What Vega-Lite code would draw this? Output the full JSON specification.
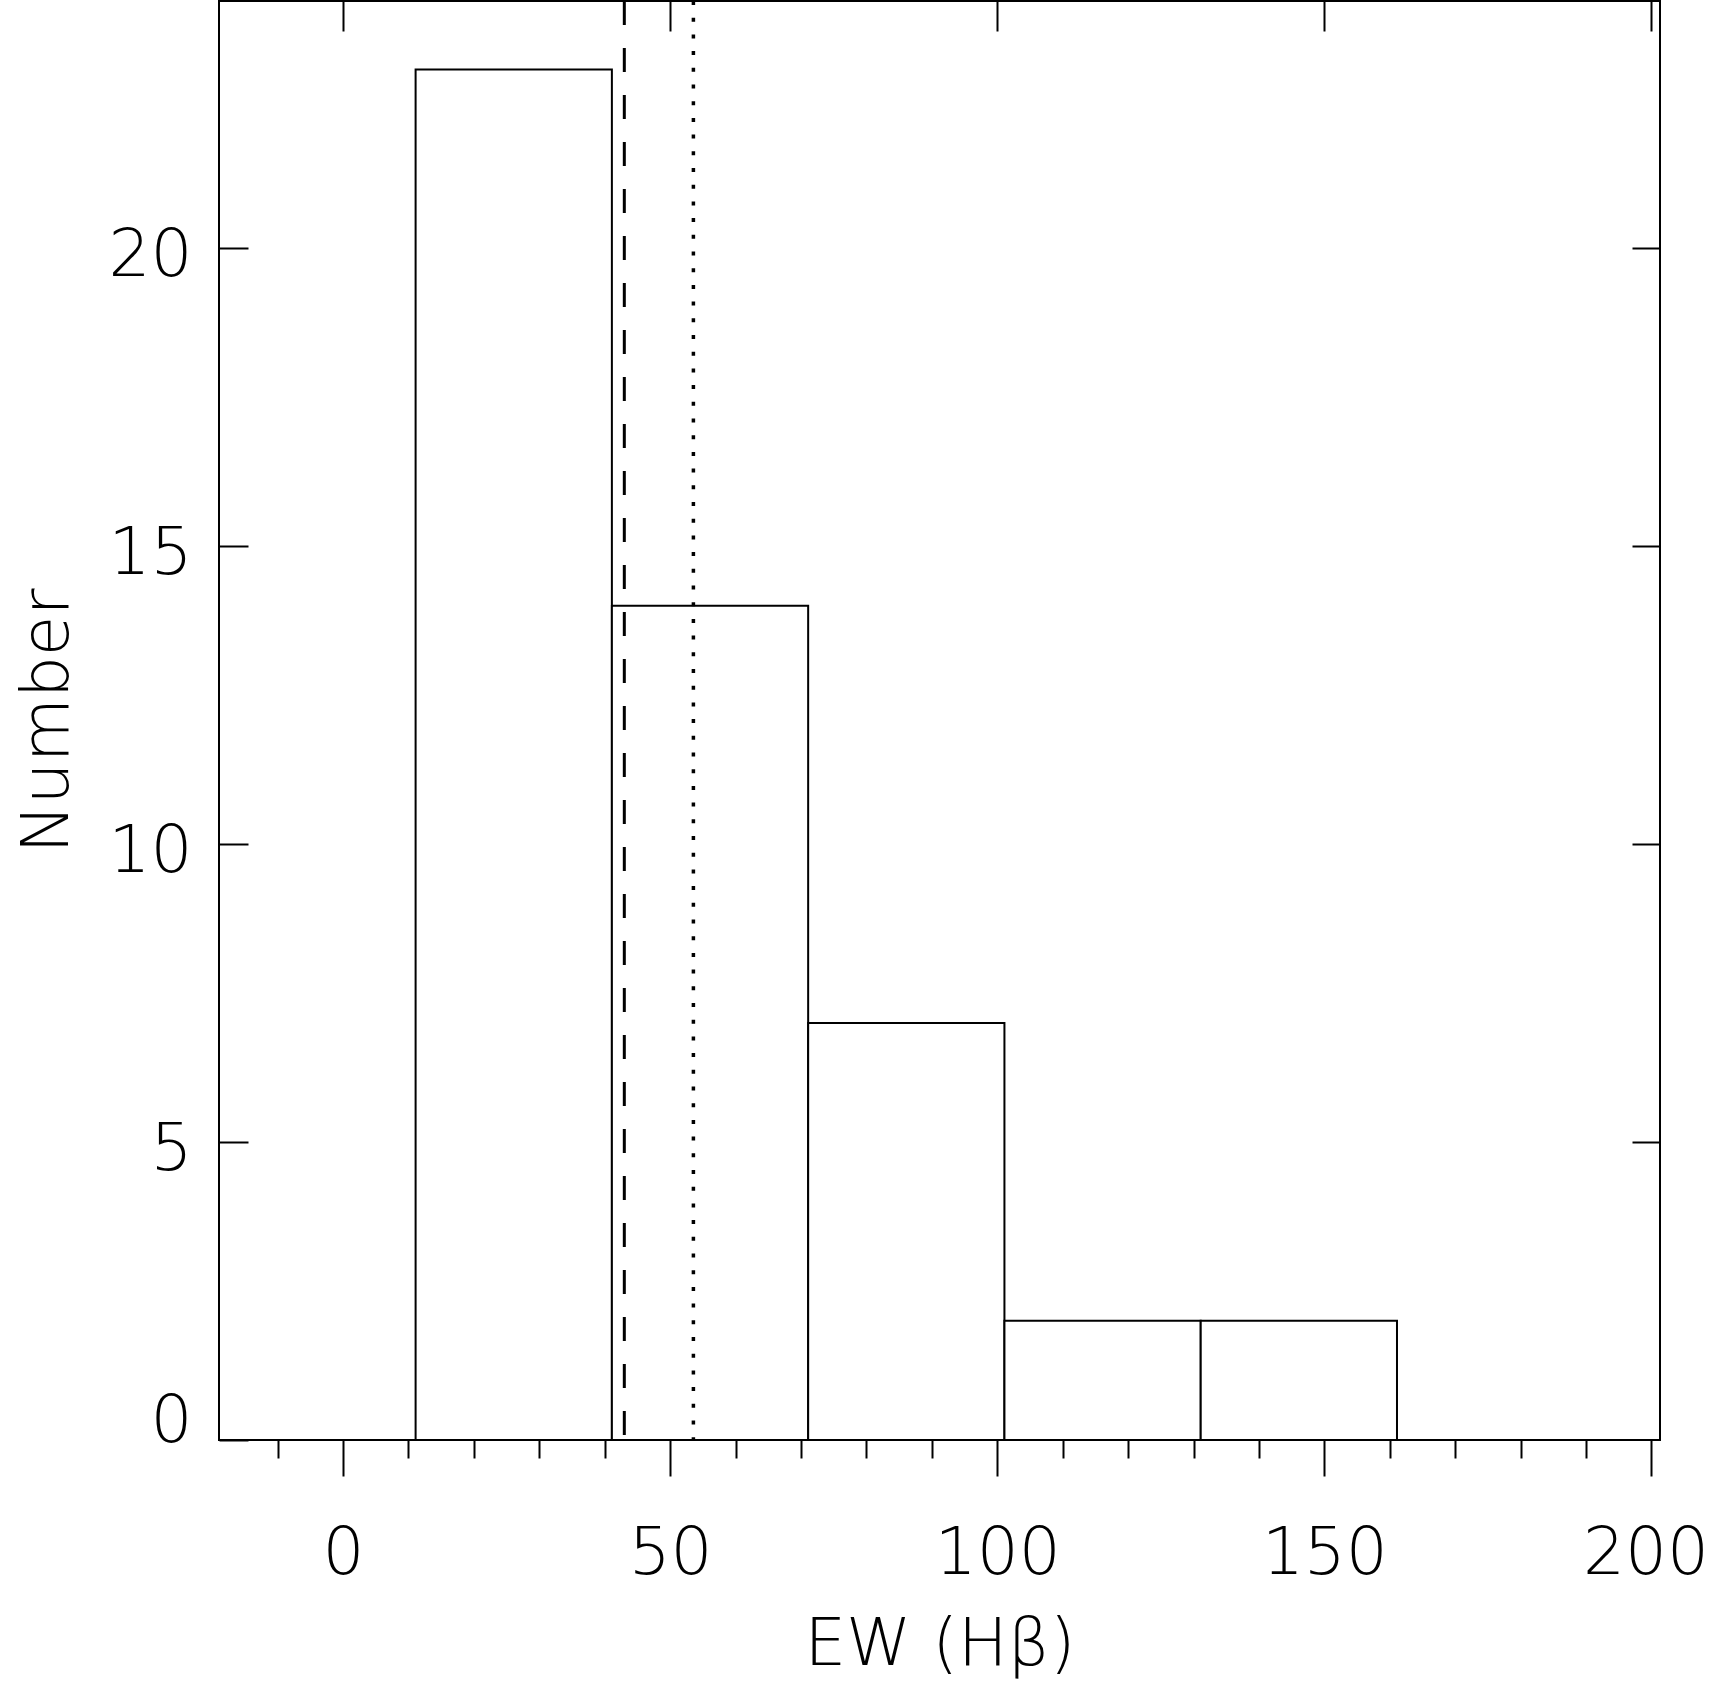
{
  "$schema": "https://vega.github.io/schema/vega-lite/v6.json",
  "autosize": {"type": "none"},
  "width": 1441,
  "height": 1439,
  "padding": {"left": 219, "top": 1, "right": 51, "bottom": 242},
  "background": "white",
  "config": {
    "view": {"stroke": "black", "strokeWidth": 2},
    "axis": {"domain": false, "grid": false, "tickColor": "black", "tickWidth": 2, "labelColor": "black", "titleColor": "black", "labelFont": "DejaVu Sans", "titleFont": "DejaVu Sans", "labelFontWeight": 200, "titleFontWeight": 200, "labelFontSize": 66, "titleFontSize": 66}
  },
  "data": {"values": [
    {"lo": 11.1, "hi": 41.1, "n": 23},
    {"lo": 41.1, "hi": 71.1, "n": 14},
    {"lo": 71.1, "hi": 101.1, "n": 7},
    {"lo": 101.1, "hi": 131.1, "n": 2},
    {"lo": 131.1, "hi": 161.1, "n": 2}
  ]},
  "layer": [
    {
      "mark": {"type": "rect", "fill": "white", "stroke": "black", "strokeWidth": 2},
      "encoding": {
        "x": {"field": "lo", "type": "quantitative", "scale": {"domain": [-18.95, 201.3], "nice": false, "zero": false},
              "axis": {"orient": "bottom", "values": [0, 50, 100, 150, 200], "tickSize": 36, "labelPadding": 45, "title": "EW (Hβ)", "titlePadding": 26, "labelFlush": 10, "labelFlushOffset": 57, "labelOverlap": false}},
        "x2": {"field": "hi"},
        "y": {"field": "n", "type": "quantitative", "scale": {"domain": [0, 24.15], "nice": false},
              "axis": {"orient": "left", "values": [0, 5, 10, 15, 20], "tickSize": -29, "labelPadding": 56, "labelOffset": 7, "labelFlush": true, "labelFlushOffset": 8, "title": "Number", "titlePadding": 27, "labelOverlap": false}},
        "y2": {"datum": 0}
      }
    },
    {
      "mark": {"type": "rect", "opacity": 0},
      "encoding": {
        "x": {"field": "lo", "type": "quantitative", "scale": {"domain": [-18.95, 201.3], "nice": false, "zero": false},
              "axis": {"orient": "bottom", "values": [-10, 10, 20, 30, 40, 60, 70, 80, 90, 110, 120, 130, 140, 160, 170, 180, 190], "tickSize": 18, "labels": false, "title": null}},
        "x2": {"field": "hi"},
        "y": {"field": "n", "type": "quantitative", "scale": {"domain": [0, 24.15], "nice": false},
              "axis": {"orient": "right", "values": [5, 10, 15, 20], "tickSize": -28, "labels": false, "title": null}},
        "y2": {"datum": 0}
      }
    },
    {
      "data": {"values": [{"ew": 43.0}]},
      "mark": {"type": "rule", "stroke": "black", "strokeWidth": 3, "strokeDash": [24, 23]},
      "encoding": {
        "x": {"field": "ew", "type": "quantitative", "scale": {"domain": [-18.95, 201.3], "nice": false, "zero": false},
              "axis": {"orient": "top", "values": [0, 50, 100, 150, 200], "tickSize": -30, "labels": false, "title": null}}
      }
    },
    {
      "data": {"values": [{"ew": 53.56}]},
      "mark": {"type": "rule", "stroke": "black", "strokeWidth": 3.5, "strokeDash": [4, 12.7]},
      "encoding": {
        "x": {"field": "ew", "type": "quantitative", "scale": {"domain": [-18.95, 201.3], "nice": false, "zero": false}, "axis": null}
      }
    }
  ],
  "resolve": {"axis": {"x": "independent", "y": "independent"}}
}
